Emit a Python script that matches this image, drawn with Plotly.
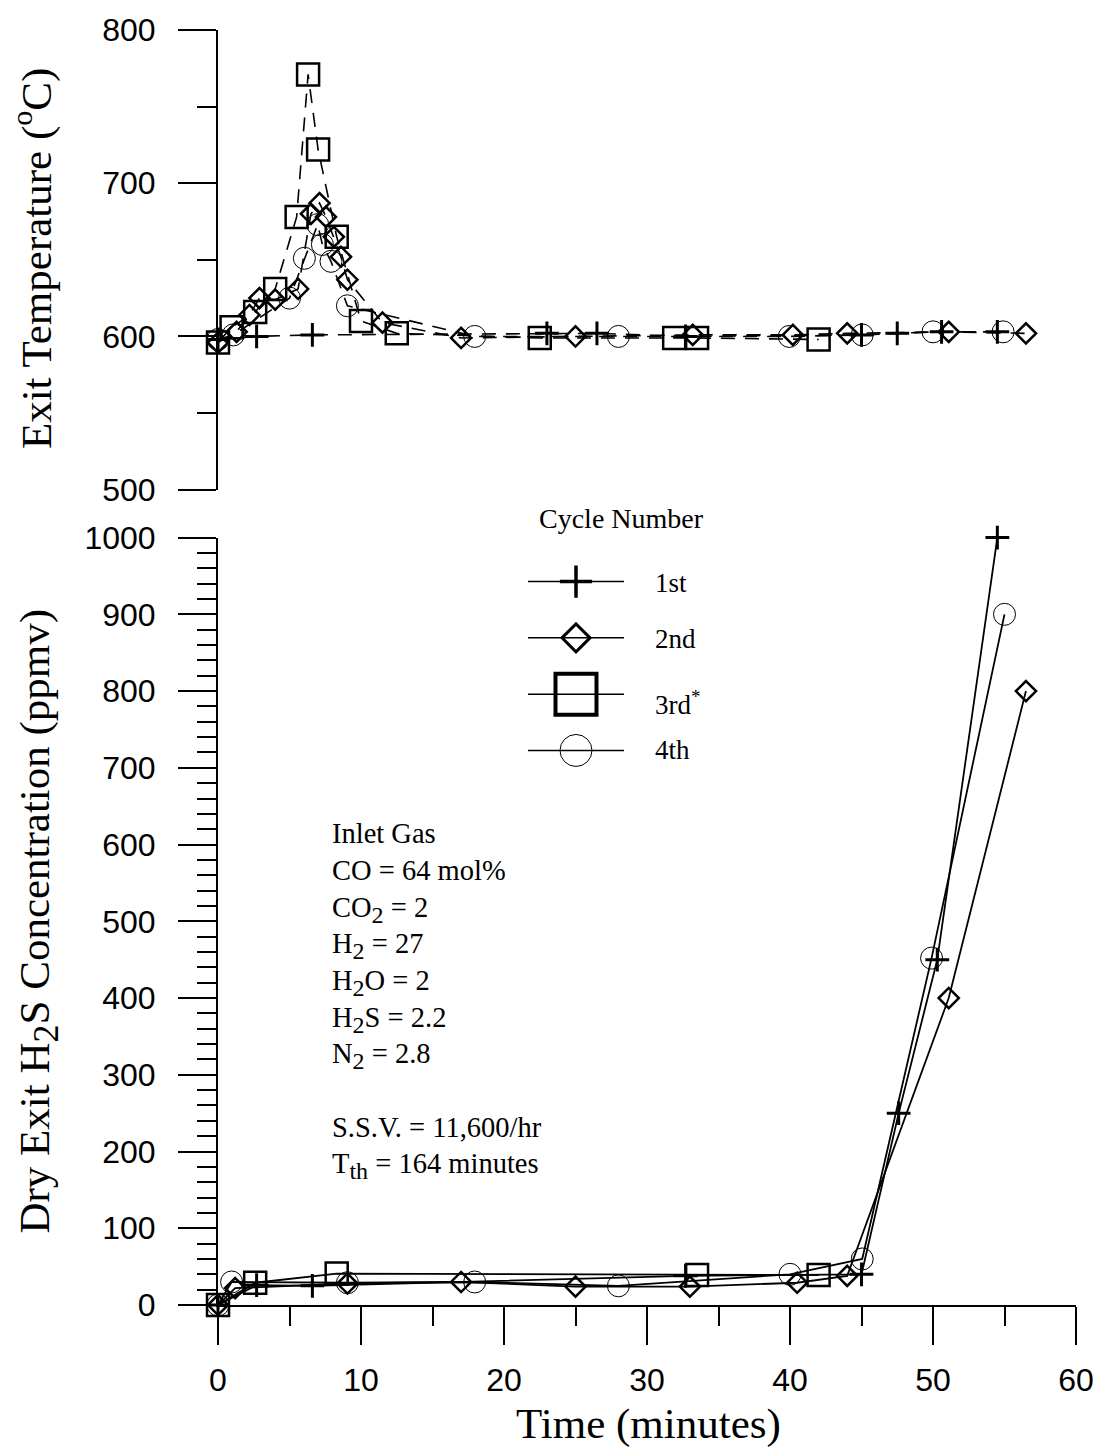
import plotly.graph_objects as go

# ---- canvas / plot-area geometry (pixels) ----
W, H = 1106, 1448
ML, MR, MT, MB = 218, 24, 29, 143
PW = W - ML - MR
PH = H - MT - MB


def px_x(p):
    return (p - ML) / PW


def px_y(p):
    return (H - MB - p) / PH


# ---- exit temperature, deg C (upper panel) ----
temp_t_1st = [0, 2.7, 6.6, 23.0, 26.5, 32.7, 45.0, 47.5, 50.6, 54.5]
temp_v_1st = [598, 600, 601, 602, 602, 600, 601, 602, 603, 603]

temp_t_2nd = [0, 1.3, 2.2, 2.9, 4.0, 5.6, 6.5, 7.1, 7.55, 8.1, 8.6, 9.05,
              11.5, 17.0, 25.0, 33.2, 40.2, 44.0, 51.1, 56.5]
temp_v_2nd = [596, 603, 614, 625, 624, 631, 680, 687, 678, 665, 652, 637,
              609, 599, 600, 601, 601, 602, 603, 602]

temp_t_3rd = [0, 0.95, 2.6, 4.0, 5.5, 6.3, 7.0, 8.3, 10.0, 12.5, 22.5, 31.9,
              33.5, 42.0]
temp_v_3rd = [596, 606, 616, 631, 678, 771, 722, 665, 610, 602, 599, 599,
              599, 598]

temp_t_4th = [0, 1.07, 5.0, 6.04, 6.97, 7.3, 7.9, 9.05, 17.95, 28.0, 39.95,
              45.05, 50.0, 54.9]
temp_v_4th = [598, 601, 625, 651, 673, 660, 649, 620, 600, 600, 600,
              601, 603, 603]

# ---- dry exit H2S concentration, ppmv (lower panel) ----
h2s_t_1st = [0, 2.7, 6.6, 32.7, 45.0, 47.6, 50.3, 54.5]
h2s_v_1st = [0, 26, 25, 38, 40, 250, 450, 1000]

h2s_t_2nd = [0, 1.2, 9.05, 17.0, 25.0, 33.0, 40.5, 44.0, 51.1, 56.5]
h2s_v_2nd = [0, 22, 28, 30, 24, 24, 29, 38, 400, 800]

h2s_t_3rd = [0, 2.6, 8.3, 33.5, 42.0]
h2s_v_3rd = [0, 29, 41, 39, 39]

h2s_t_4th = [0, 0.95, 9.05, 17.95, 28.0, 40.0, 45.05, 49.9, 55.0]
h2s_v_4th = [0, 30, 29, 30, 25, 40, 60, 452, 900]

cycle_names = ["1st", "2nd", "3rd<sup>*</sup>", "4th"]

x_ticks = [0, 10, 20, 30, 40, 50, 60]

# marker styling per cycle: (symbol, size, stroke width)
styles = [
    ("cross-thin-open", 17, 3),
    ("diamond-open", 15.5, 2.5),
    ("square-open", 22, 2.5),
    ("circle-open", 22, 1),
]
legend_sizes = [23, 21.5, 41, 32]
legend_strokes = [3.5, 3, 4, 1]

SERIF = "Liberation Serif, Times New Roman, serif"
SANS = "Liberation Sans, Arial, sans-serif"


def sub(s, px):
    """Subscript drawn a little larger than Plotly's default."""
    return f"<sub><span style='font-size:{px}px'>{s}</span></sub>"


fig = go.Figure()

temp_series = [(temp_t_1st, temp_v_1st), (temp_t_2nd, temp_v_2nd),
               (temp_t_3rd, temp_v_3rd), (temp_t_4th, temp_v_4th)]
h2s_series = [(h2s_t_1st, h2s_v_1st), (h2s_t_2nd, h2s_v_2nd),
              (h2s_t_3rd, h2s_v_3rd), (h2s_t_4th, h2s_v_4th)]

for (tx, ty), (sym, size, lw) in zip(temp_series, styles):
    fig.add_trace(go.Scatter(
        x=tx, y=ty, xaxis="x2", yaxis="y2", mode="lines+markers",
        line=dict(color="black", width=1.6, dash="14px,10px"),
        marker=dict(symbol=sym, size=size, color="black",
                    line=dict(color="black", width=lw)),
        cliponaxis=False, showlegend=False, hoverinfo="skip"))

for (tx, ty), (sym, size, lw) in zip(h2s_series, styles):
    fig.add_trace(go.Scatter(
        x=tx, y=ty, xaxis="x", yaxis="y", mode="lines+markers",
        line=dict(color="black", width=1.8),
        marker=dict(symbol=sym, size=size, color="black",
                    line=dict(color="black", width=lw)),
        cliponaxis=False, showlegend=False, hoverinfo="skip"))

# ---- hand-drawn key ("Cycle Number") on its own hidden axes ----
for i, (name, (sym, _, _)) in enumerate(zip(cycle_names, styles)):
    row = i + 1
    fig.add_trace(go.Scatter(
        x=[0, 1], y=[row, row], xaxis="x3", yaxis="y3", mode="lines",
        line=dict(color="black", width=1.5),
        showlegend=False, hoverinfo="skip"))
    fig.add_trace(go.Scatter(
        x=[0.5], y=[row], xaxis="x3", yaxis="y3", mode="markers",
        marker=dict(symbol=sym, size=legend_sizes[i], color="black",
                    line=dict(color="black", width=legend_strokes[i])),
        cliponaxis=False, showlegend=False, hoverinfo="skip"))

axis_common = dict(
    showline=True, linecolor="black", linewidth=2,
    ticks="outside", ticklen=38, tickwidth=2, tickcolor="black",
    showgrid=False, zeroline=False,
    tickfont=dict(family=SANS, size=32, color="black"),
)

legend_top, legend_bottom = 552.8, 778.2

fig.update_layout(
    width=W, height=H,
    margin=dict(l=ML, r=MR, t=MT, b=MB),
    paper_bgcolor="white", plot_bgcolor="white",
    xaxis=dict(
        domain=[0, 1], range=[0, 60], anchor="y",
        tickmode="array", tickvals=x_ticks, ticklabelstandoff=8,
        minor=dict(ticks="outside", ticklen=19, tickwidth=2,
                   tickcolor="black", dtick=5, tick0=0),
        **axis_common),
    yaxis=dict(
        domain=[0, px_y(537)], range=[0, 1000], anchor="x",
        dtick=100, tick0=0, ticklabelstandoff=16,
        minor=dict(ticks="outside", ticklen=19, tickwidth=2,
                   tickcolor="black", dtick=20, tick0=0),
        **axis_common),
    xaxis2=dict(domain=[0, 1], range=[0, 60], anchor="y2", matches="x",
                visible=False),
    yaxis2=dict(
        domain=[px_y(489), 1], range=[500, 800], anchor="x2",
        dtick=100, tick0=500, ticklabelstandoff=16,
        minor=dict(ticks="outside", ticklen=19, tickwidth=2,
                   tickcolor="black", dtick=50, tick0=500),
        **axis_common),
    xaxis3=dict(domain=[px_x(530), px_x(627)], range=[0, 1], anchor="y3",
                visible=False, fixedrange=True),
    yaxis3=dict(domain=[px_y(legend_bottom), px_y(legend_top)],
                range=[4.5, 0.5], anchor="x3", visible=False,
                fixedrange=True),
)

annotations = []


def add_text(text, x, y, size, xanchor="left", yanchor="middle",
             angle=0, family=SERIF):
    annotations.append(dict(
        text=text, x=px_x(x), y=px_y(y), xref="paper", yref="paper",
        xanchor=xanchor, yanchor=yanchor, textangle=angle, showarrow=False,
        font=dict(family=family, size=size, color="black")))


# axis titles
add_text("Time (minutes)", 652, 1424, 43, xanchor="center")
add_text("Dry Exit H" + sub("2", 36) + "S Concentration (ppmv)", 37, 921, 43,
         xanchor="center", angle=-90)
add_text("Exit Temperature (<sup>o</sup>C)", 32, 258, 43,
         xanchor="center", angle=-90)

# key title and entries
add_text("Cycle Number", 624, 518, 28, xanchor="center")
key_rows_y = [582, 638, 703, 750]
for name, yy in zip(cycle_names, key_rows_y):
    add_text(name, 656, yy, 27)

# inlet gas conditions
gas_lines = [
    "Inlet Gas",
    "CO = 64 mol%",
    "CO" + sub("2", 24) + " = 2",
    "H" + sub("2", 24) + " = 27",
    "H" + sub("2", 24) + "O = 2",
    "H" + sub("2", 24) + "S = 2.2",
    "N" + sub("2", 24) + " = 2.8",
    "",
    "S.S.V. = 11,600/hr",
    "T" + sub("th", 24) + " = 164 minutes",
]
line_step = 36.7
for k, txt in enumerate(gas_lines):
    if txt:
        cap_center = 834 + k * line_step
        add_text(txt, 331, cap_center - 18, 28.5, yanchor="top")

fig.update_layout(annotations=annotations)

fig.write_html("out.html")
